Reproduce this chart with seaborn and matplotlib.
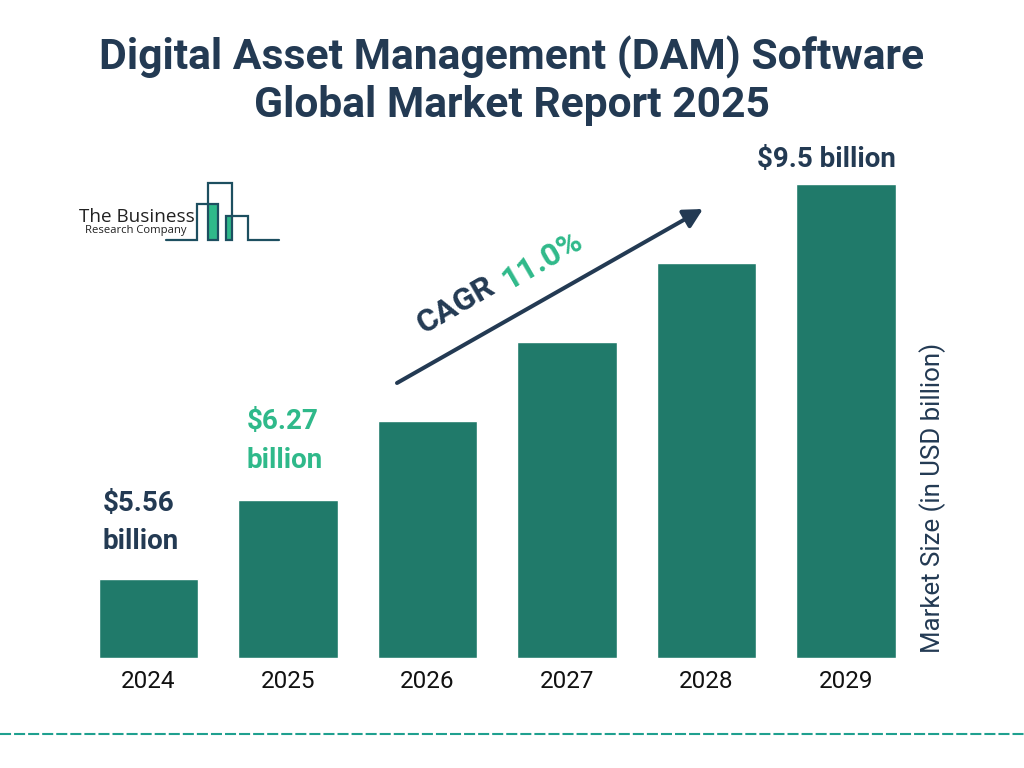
import matplotlib

matplotlib.use("Agg")
import matplotlib.pyplot as plt
import pandas as pd
import seaborn as sns

years = ["2024", "2025", "2026", "2027", "2028", "2029"]
# drawn bar heights (the bars are not to scale with the labels)
bar_heights = [79, 158, 237, 316, 395, 474]

NAVY = "#233a53"
BAR = "#207a6a"
GREEN = "#2fb98a"
LOGO = "#1d4f60"

sns.set_theme(style="white")
plt.rcParams["font.family"] = ["Roboto", "DejaVu Sans"]

W, H = 1024, 768
fig = plt.figure(figsize=(W / 100, H / 100), dpi=100, facecolor="white")

# Bars
ax = fig.add_axes([78.7 / W, (H - 657.6) / H, 837 / W, 508 / H])
df = pd.DataFrame({"year": years, "height": bar_heights})
sns.barplot(data=df, x="year", y="height", color=BAR, saturation=1, width=0.712, ax=ax)
ax.set_xlim(-0.5, 5.5)
ax.set_ylim(0, 508)
ax.set_xlabel("")
ax.set_ylabel("")
ax.set_yticks([])
ax.tick_params(axis="x", length=0, pad=9, labelsize=17.5, labelcolor="#111111")
sns.despine(ax=ax, left=True, bottom=True)
ax.patch.set_alpha(0)

# Overlay in pixel coordinates for annotations
ov = fig.add_axes([0, 0, 1, 1], zorder=5)
ov.set_xlim(0, W)
ov.set_ylim(H, 0)
ov.axis("off")

ov.text(512, 57, "Digital Asset Management (DAM) Software", ha="center", va="center",
        fontsize=30.7, fontweight="bold", color=NAVY)
ov.text(512, 105, "Global Market Report 2025", ha="center", va="center",
        fontsize=30.7, fontweight="bold", color=NAVY)

# Value labels
label_style = dict(fontsize=20, fontweight="bold", va="center", ha="left")
ov.text(102.5, 503, "$5.56", color=NAVY, **label_style)
ov.text(102.5, 541.5, "billion", color=NAVY, **label_style)
ov.text(246.5, 421.5, "$6.27", color=GREEN, **label_style)
ov.text(246.5, 460.5, "billion", color=GREEN, **label_style)
ov.text(826, 159, "$9.5 billion", color=NAVY, fontsize=20, fontweight="bold",
        va="center", ha="center")

# CAGR arrow and text
ov.annotate("", xy=(703, 209), xytext=(397, 383),
            arrowprops=dict(arrowstyle="-|>,head_length=0.95,head_width=0.5", color=NAVY,
                            lw=2.9, shrinkA=0, shrinkB=0))
ov.text(456, 305, "CAGR", rotation=30, rotation_mode="anchor", ha="center", va="center",
        fontsize=23, fontweight="bold", color=NAVY)
ov.text(542.5, 260, "11.0%", rotation=30, rotation_mode="anchor", ha="center", va="center",
        fontsize=23, fontweight="bold", color=GREEN)

ov.text(933, 497.5, "Market Size (in USD billion)", rotation=90, ha="center", va="center",
        fontsize=18.6, color=NAVY)

# Dashed footer line
ov.plot([0, W], [734, 734], color="#1fa08f", lw=1.5, dashes=(5.3, 1.45), dash_capstyle="butt")

# Logo
ov.fill_between([209, 218], 204, 240, color=GREEN, lw=0)
ov.fill_between([226, 232], 217, 240, color=GREEN, lw=0)
ov.plot([166, 197, 197, 218, 218, 208, 208, 232, 232, 226, 226, 248, 248, 279],
        [240, 240, 204, 204, 240, 240, 183, 183, 240, 240, 216, 216, 240, 240],
        color=LOGO, lw=1.6, solid_joinstyle="miter")
ov.text(79, 217, "The Business", fontsize=13.6, family="Open Sans", color="#222222",
        ha="left", va="center")
ov.text(85, 231, "Research Company", fontsize=8.1, family="Open Sans", color="#222222",
        ha="left", va="center")

fig.savefig("out.png", dpi=100)
